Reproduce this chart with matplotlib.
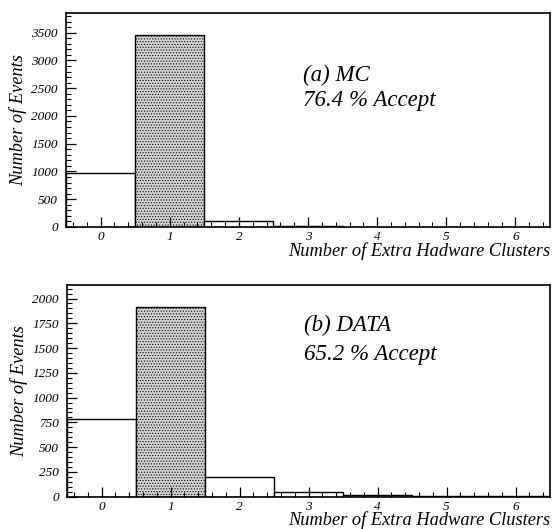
import numpy as np
import matplotlib
matplotlib.use("Agg")
import matplotlib.pyplot as plt
from matplotlib.ticker import MultipleLocator

# bins: number of extra hardware clusters
clusters = [0, 1, 2, 3, 4, 5, 6]
mc_counts = [970, 3450, 110, 15, 5, 3, 2]
data_counts = [785, 1910, 200, 50, 22, 6, 3]
accepted_bin = 1

panels = [
    ("(a) MC", "76.4 % Accept", mc_counts, 3850, 500, 100, 0.71, 0.59),
    ("(b) DATA", "65.2 % Accept", data_counts, 2135, 250, 50, 0.81, 0.67),
]

plt.rcParams['font.family'] = ['Liberation Serif', 'DejaVu Serif']
plt.rcParams['hatch.linewidth'] = 0.5
plt.rcParams['hatch.color'] = '#444444'

fig = plt.figure(figsize=(5.55, 5.29), dpi=100)
rects = [[0.119, 0.571, 0.872, 0.404], [0.121, 0.061, 0.870, 0.400]]

for rect, (tag, acc, counts, ymax, major, minor, y1, y2) in zip(rects, panels):
    ax = fig.add_axes(rect)
    for x, c in zip(clusters, counts):
        if x == accepted_bin:
            ax.bar(x, c, width=1.0, facecolor='#d4d4d4', edgecolor='black',
                   hatch='......', linewidth=1.0)
        else:
            ax.bar(x, c, width=1.0, facecolor='white', edgecolor='black',
                   linewidth=1.0)
    ax.set_xlim(-0.5, 6.5)
    ax.set_ylim(0, ymax)
    ax.xaxis.set_major_locator(MultipleLocator(1))
    ax.xaxis.set_minor_locator(MultipleLocator(0.2))
    ax.yaxis.set_major_locator(MultipleLocator(major))
    ax.yaxis.set_minor_locator(MultipleLocator(minor))
    ax.tick_params(which='both', direction='in', top=False, right=False)
    ax.tick_params(which='major', length=7, width=0.9)
    ax.tick_params(which='minor', length=3.5, width=0.8)
    ax.tick_params(axis='x', which='major', pad=3, labelsize=9.5)
    ax.tick_params(axis='y', which='major', pad=6, labelsize=9.5)
    for lab in ax.get_xticklabels() + ax.get_yticklabels():
        lab.set_fontstyle('italic')
    for s in ax.spines.values():
        s.set_linewidth(1.2)
    ax.set_ylabel("Number of Events", fontsize=13.2, fontstyle='italic', labelpad=3)
    ax.set_xlabel("Number of Extra Hadware Clusters", fontsize=13.2,
                  fontstyle='italic', loc='right', labelpad=-1)
    ax.text(0.49, y1, tag, transform=ax.transAxes, fontsize=16.5,
            fontstyle='italic', va='center')
    ax.text(0.49, y2, acc, transform=ax.transAxes, fontsize=16.5,
            fontstyle='italic', va='center')

fig.savefig("out.png", dpi=100)
